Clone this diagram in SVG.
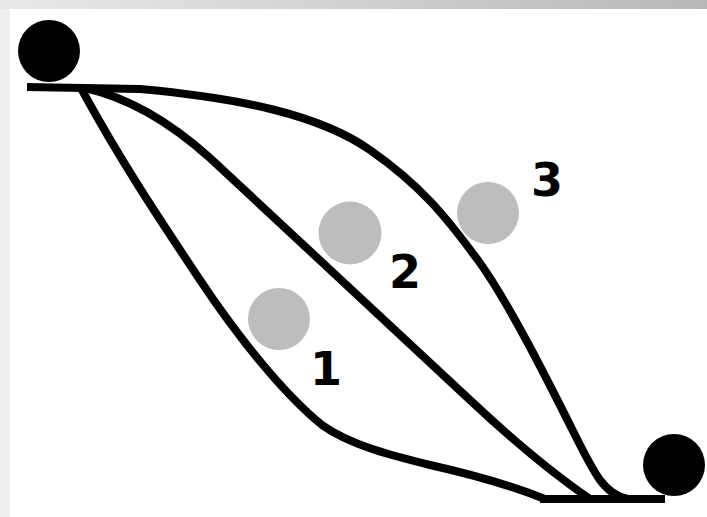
<svg xmlns="http://www.w3.org/2000/svg" width="707" height="517" viewBox="0 0 707 517">
<defs>
<linearGradient id="topbar" x1="0" y1="0" x2="1" y2="0">
<stop offset="0" stop-color="#e9e9e9"/>
<stop offset="1" stop-color="#b8b8b8"/>
</linearGradient>
<style>
.track{fill:none;stroke:#000;stroke-width:8;stroke-linejoin:round;stroke-linecap:butt}
.ball{fill:#000}
.ghost{fill:#bdbdbd}
.lbl{font-family:"DejaVu Sans",sans-serif;font-weight:bold;font-size:46px;fill:#000;text-anchor:middle}
</style>
</defs>
<rect x="0" y="0" width="707" height="517" fill="#fff"/>
<rect x="0" y="0" width="707" height="9" fill="url(#topbar)"/>
<rect x="0" y="9" width="10" height="508" fill="#efefef"/>

<g id="connectors">
<path class="track" d="M27,87 L140,89 C240,98 320,115 370,150 C420,185 445,215 480,263 C510,305 550,385 575,435 C595,475 605,495 628,499"/>
<path class="track" d="M85,88 C130,98 170,122 210,158 L470,400 C520,447 555,475 590,499"/>
<path class="track" d="M82,90 C120,160 160,220 200,280 C240,340 285,395 322,425 C350,445 390,455 430,465 C470,474 510,485 545,499"/>
<path class="track" d="M540,499 L665,499"/>
</g>

<g id="start"><circle class="ball" cx="49" cy="51" r="31"/></g>
<g id="end"><circle class="ball" cx="674" cy="465" r="31"/></g>

<g id="ball1"><circle class="ghost" cx="279" cy="319" r="31"/><text class="lbl" x="326" y="385">1</text></g>
<g id="ball2"><circle class="ghost" cx="350" cy="233" r="31.5"/><text class="lbl" x="405" y="288">2</text></g>
<g id="ball3"><circle class="ghost" cx="488" cy="213" r="31"/><text class="lbl" x="547" y="196">3</text></g>
</svg>
